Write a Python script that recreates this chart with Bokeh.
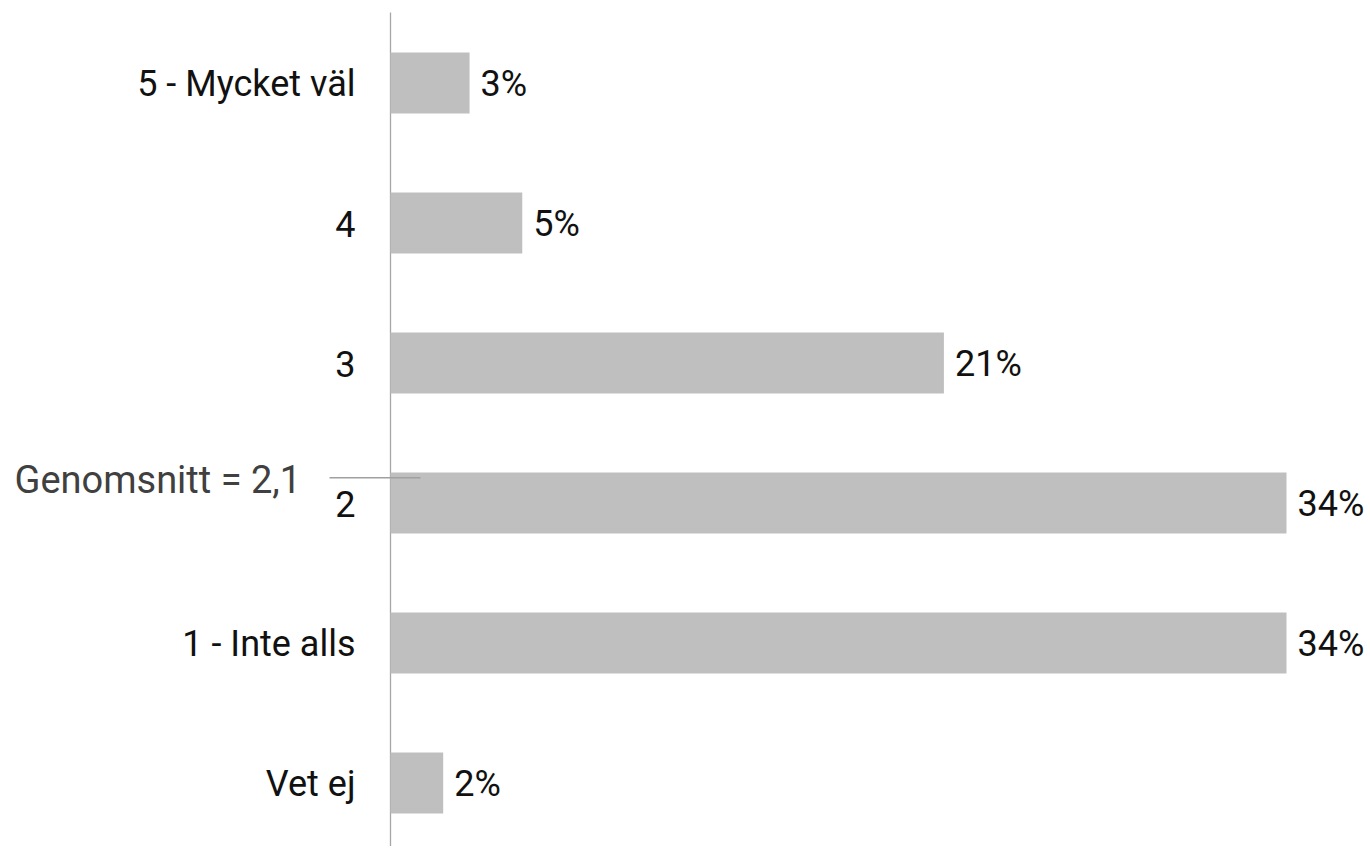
from bokeh.plotting import figure
from bokeh.models import ColumnDataSource, Range1d
from bokeh.core.properties import value
from bokeh.embed import file_html
from bokeh.resources import INLINE

# data (bottom to top)
categories = ["Vet ej", "1 - Inte alls", "2", "3", "4", "5 - Mycket väl"]
values = [2, 34, 34, 21, 5, 3]
labels = ["2%", "34%", "34%", "21%", "5%", "3%"]
mean_text = "Genomsnitt = 2,1"
mean_line_pos = 2.18

positions = list(range(len(categories)))
src = ColumnDataSource(dict(y=positions, v=values, lab=labels, cat=categories))

FONT = "Roboto"
FS = "36px"

W, H = 1368, 846
PX_PER_UNIT = 26.353   # x scale
PX_PER_CAT = 140.0     # y scale
X0 = 390               # pixel of x = 0
Y5 = 82.5              # pixel of top category center

x_range = Range1d(-X0 / PX_PER_UNIT, (W - X0) / PX_PER_UNIT)
y_range = Range1d(5 - (H - Y5) / PX_PER_CAT, 5 + Y5 / PX_PER_CAT)

p = figure(width=W, height=H, output_backend="svg", toolbar_location=None,
           x_range=x_range, y_range=y_range,
           x_axis_location=None, y_axis_location=None,
           min_border=0)
p.outline_line_color = None
p.xgrid.visible = False
p.ygrid.visible = False
p.background_fill_color = "white"
p.border_fill_color = "white"

# value axis baseline (vertical axis line)
p.segment(x0=0, x1=0, y0=y_range.end - 12 / PX_PER_CAT, y1=y_range.start,
          line_color="#a6a6a6", line_width=1.3)

p.hbar(y="y", right="v", left=0, height=0.436, source=src,
       fill_color="#bfbfbf", line_color=None)

# category labels (axis tick labels)
p.text(x=0, y="y", text="cat", source=src, x_offset=-35, y_offset=1,
       text_font=value(FONT), text_font_size=FS, text_color="#111111",
       text_baseline="middle", text_align="right")

# value labels
p.text(x="v", y="y", text="lab", source=src, x_offset=11, y_offset=1,
       text_font=value(FONT), text_font_size=FS, text_color="#111111",
       text_baseline="middle", text_align="left")

# mean marker
p.segment(x0=-61 / PX_PER_UNIT, x1=30 / PX_PER_UNIT, y0=mean_line_pos, y1=mean_line_pos,
          line_color="#a0a0a0", line_width=1.5)
p.text(x=[x_range.start + 14 / PX_PER_UNIT], y=[mean_line_pos], text=[mean_text],
       y_offset=2, text_font=value(FONT), text_font_size="38px", text_color="#404040",
       text_baseline="middle", text_align="left")

open("out.html", "w").write(file_html(p, INLINE))
